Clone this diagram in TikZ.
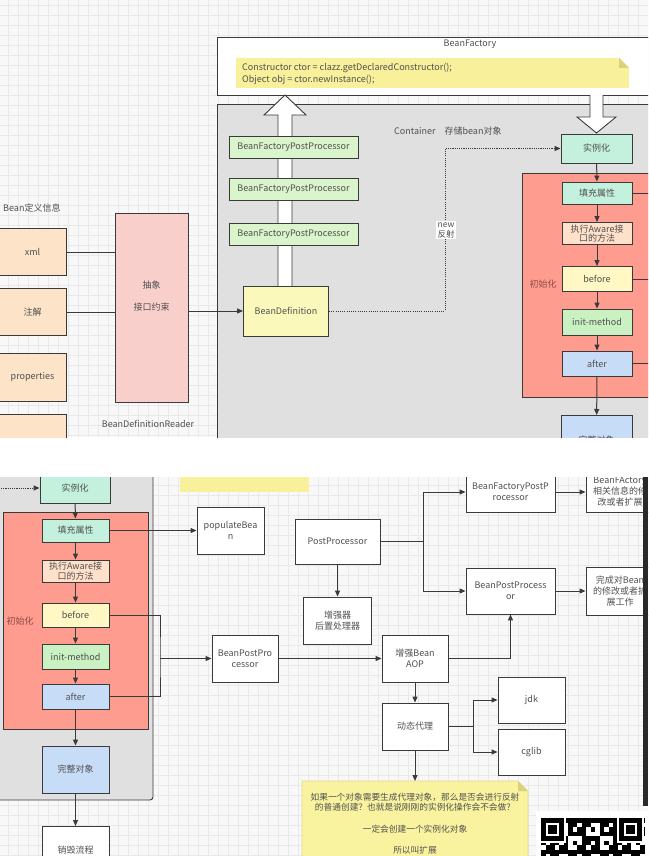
\documentclass[tikz,border=0pt]{standalone}
\usepackage{fontspec}
\setmainfont{Noto Sans CJK SC}
\usetikzlibrary{arrows.meta}
\usetikzlibrary{positioning}
\definecolor{paper}{HTML}{F8F8F8}
\definecolor{gridcol}{HTML}{E9E9E9}
\definecolor{ink}{HTML}{3A3A3A}
\definecolor{txt}{HTML}{505050}
\definecolor{boxgray}{HTML}{E0E0E0}
\definecolor{mint}{HTML}{C3F1DD}
\definecolor{initred}{HTML}{FF9C90}
\definecolor{initlbl}{HTML}{8E4A44}
\definecolor{srcpeach}{HTML}{FDE3C7}
\definecolor{awarepeach}{HTML}{FFE1CB}
\definecolor{readerpink}{HTML}{F9CFCC}
\definecolor{defyellow}{HTML}{FAF8BA}
\definecolor{beforeyellow}{HTML}{FFF8C4}
\definecolor{initgreen}{HTML}{C9F1C2}
\definecolor{bfppgreen}{HTML}{DAF4CB}
\definecolor{afterblue}{HTML}{C7DCF7}
\definecolor{noteyellow}{HTML}{F8F09A}
\definecolor{folddark}{HTML}{D9D27A}
\definecolor{tipyellow}{HTML}{F9F39F}
\definecolor{tipedge}{HTML}{E3D98A}
\tikzset{
box/.style={ % boxes of the flow
draw=ink, line width=0.9pt, align=center, inner sep=1pt,
font=\fontsize{9}{11}\selectfont, text=txt},
lbl/.style={font=\fontsize{9}{11}\selectfont, text=txt, inner sep=1pt},
link/.style={draw=ink, line width=1pt},
flow/.style={link, -{Triangle[length=6pt, width=5pt]}}, % arrowed connector
dots/.style={link, dash pattern=on 1.1pt off 1.1pt},
gridline/.style={draw=gridcol, line width=0.4pt},
hollow/.style={draw=ink, line width=0.9pt, fill=white, line join=miter}}

\begin{document}
\begin{tikzpicture}[x=1pt, y=-1pt]
\useasboundingbox (0,0) rectangle (648,856);
\fill[white] (0,0) rectangle (648,856);

% first view
\begin{scope}
\clip (0,0) rectangle (648,437);
\fill[paper] (0,0) rectangle (648,437);
\foreach \gx in {8,18,...,648} \draw[gridline] (\gx,0) -- (\gx,437);
\foreach \gy in {5,15,...,437} \draw[gridline] (0,\gy) -- (648,\gy);

\node[box, fill=white, minimum width=443, minimum height=58] (factory) at (438.5,66) {};
\node[lbl] (factorytitle) at (470,44) {BeanFactory};
\fill[noteyellow] (236,58) -- (619,58) -- (629,68) -- (629,88) -- (236,88) -- cycle;
\fill[folddark] (619,58) -- (629,68) -- (619,68) -- cycle;
\node[lbl, anchor=west, align=left, font=\fontsize{9}{12}\selectfont] (ctorcode) at (241,74)
{Constructor ctor = clazz.getDeclaredConstructor();\\Object obj = ctor.newInstance();};

\node[box, fill=boxgray, minimum width=443, minimum height=346, anchor=north west] (container) at (217,104) {};
\node[lbl, anchor=west] (containertitle) at (393,131) {Container\quad 存储bean对象};

\draw[hollow] (278,286) -- (278,115) -- (264,115) -- (285,95) -- (306,115) -- (292,115) -- (292,286);
\draw[hollow] (590,95) -- (590,117) -- (577,117) -- (596.5,133) -- (616,117) -- (603,117) -- (603,95);

\foreach \n/\y in {1/147.5, 2/189, 3/234}
\node[box, fill=bfppgreen, minimum width=129, minimum height=22] (bfpp\n) at (293.5,\y) {BeanFactoryPostProcessor};
\node[box, fill=defyellow, minimum width=85, minimum height=50] (beandef) at (286,311) {BeanDefinition};

\node[box, fill=mint, minimum width=71, minimum height=29] (inst) at (596.5,148.5) {实例化};
\node[box, fill=initred, minimum width=150, minimum height=224, anchor=north west] (initbox) at (522,173) {};
\node[lbl, text=initlbl] (initlabel) at (543,284) {初始化};
\node[box, fill=mint, minimum width=70, minimum height=22] (fillprop) at (597,193) {填充属性};
\node[box, fill=awarepeach, minimum width=70, minimum height=22, font=\fontsize{9}{9.5}\selectfont] (aware) at (597,233.5) {执行Aware接\\口的方法};
\node[box, fill=beforeyellow, minimum width=70, minimum height=25] (before) at (597,279) {before};
\node[box, fill=initgreen, minimum width=70, minimum height=26] (initm) at (597,322) {init-method};
\node[box, fill=afterblue, minimum width=70, minimum height=25] (after) at (597,363.5) {after};
\node[box, fill=afterblue, minimum width=71, minimum height=50, anchor=north] (whole) at (596.5,415) {完整对象};

\draw[flow] (inst) -- (fillprop);
\draw[flow] (fillprop) -- (aware);
\draw[flow] (aware) -- (before);
\draw[flow] (before) -- (initm);
\draw[flow] (initm) -- (after);
\draw[flow] (after) -- (whole);
\coordinate (rightedge) at (660,0);
\foreach \n in {fillprop,before,after} \draw[link] (\n.east) -- (\n.east -| rightedge);

\coordinate (newbend) at (445,230);
\draw[dots, -{Triangle[length=6pt, width=5pt]}] (beandef.east) -| (newbend) |- (inst.west);
\node[lbl, fill=white, align=center, font=\fontsize{8.5}{10}\selectfont, inner sep=1.5pt] (newlabel) at (446,230) {new\\反射};

\node[lbl, anchor=west] (definfo) at (2,208) {Bean定义信息};
\node[box, fill=srcpeach, minimum width=67, minimum height=47] (xml) at (32.5,252) {xml};
\node[box, fill=srcpeach, minimum width=67, minimum height=47] (anno) at (32.5,312) {注解};
\node[box, fill=srcpeach, minimum width=67, minimum height=48] (props) at (32.5,377) {properties};
\node[box, fill=srcpeach, minimum width=67, minimum height=48] (other) at (32.5,438) {};
\node[box, fill=readerpink, minimum width=73, minimum height=189] (reader) at (151.5,307.5) {};
\node[lbl, align=center] (readertext) at (151.5,296) {抽象\\[11pt]接口约束};
\node[lbl] (readername) at (148,424) {BeanDefinitionReader};
\draw[link] (xml) -- (xml -| reader.west);
\draw[link] (anno) -- (anno -| reader.west);
\draw[flow] (reader.east |- beandef) -- (beandef.west);
\end{scope}

% second view
\begin{scope}
\clip (0,477) rectangle (648,856);
\fill[paper] (0,477) rectangle (648,856);
\foreach \gx in {8,18,...,648} \draw[gridline] (\gx,477) -- (\gx,856);
\foreach \gy in {485,495,...,856} \draw[gridline] (0,\gy) -- (648,\gy);

\fill[noteyellow] (180,470) rectangle (309,492);
\draw[fill=boxgray, draw=ink, line width=0.9pt, rounded corners=3pt] (-10,460) rectangle (153,800);

\node[box, fill=mint, minimum width=70, minimum height=30] (instb) at (75,488) {实例化};
\coordinate (dotsource) at (-10,488);
\draw[dots, -{Triangle[length=6pt, width=5pt]}] (dotsource) -- (instb.west);
\node[box, fill=initred, minimum width=145, minimum height=217, anchor=north west] (initboxb) at (3,512) {};
\node[lbl, text=initlbl] (initlabelb) at (20,621) {初始化};
\node[box, fill=mint, minimum width=67, minimum height=23] (fillb) at (75.5,530.5) {填充属性};
\node[box, fill=awarepeach, minimum width=67, minimum height=22, font=\fontsize{9}{9.5}\selectfont] (awareb) at (75.5,571) {执行Aware接\\口的方法};
\node[box, fill=beforeyellow, minimum width=67, minimum height=24] (beforeb) at (75.5,615) {before};
\node[box, fill=initgreen, minimum width=67, minimum height=25] (initmb) at (75.5,656.5) {init-method};
\node[box, fill=afterblue, minimum width=67, minimum height=25] (afterb) at (75.5,696.5) {after};
\node[box, fill=afterblue, minimum width=67, minimum height=47] (wholeb) at (75.5,769.5) {完整对象};
\node[box, fill=white, minimum width=67, minimum height=48, anchor=north] (destroy) at (75.5,826) {销毁流程};
\draw[flow] (instb) -- (fillb);
\draw[flow] (fillb) -- (awareb);
\draw[flow] (awareb) -- (beforeb);
\draw[flow] (beforeb) -- (initmb);
\draw[flow] (initmb) -- (afterb);
\draw[flow] (afterb) -- (wholeb);
\draw[flow] (wholeb) -- (destroy);

\node[box, fill=white, minimum width=67, minimum height=47] (populate) at (230.5,530.5) {populateBea\\n};
\node[box, fill=white, minimum width=66, minimum height=47] (bppleft) at (245,658.5) {BeanPostPro\\cessor};
\draw[flow] (fillb) -- (populate);
\coordinate (bracket) at (160,658.5);
\draw[link] (beforeb.east) -| (bracket) |- (afterb.east);
\draw[flow] (bracket) -- (bppleft.west);

\node[box, fill=white, minimum width=85, minimum height=45] (postp) at (337.5,541.5) {PostProcessor};
\node[box, fill=white, minimum width=68, minimum height=47] (enhancer) at (337.5,620.5) {增强器\\后置处理器};
\node[box, fill=white, minimum width=89, minimum height=40] (bfppright) at (510.5,492) {BeanFactoryPostP\\rocessor};
\node[box, fill=white, minimum width=68, minimum height=40] (bfinfo) at (620,492) {BeanFActory\\相关信息的修\\改或者扩展};
\node[box, fill=white, minimum width=89, minimum height=46] (bppright) at (510.5,591) {BeanPostProcess\\or};
\node[box, fill=white, minimum width=68, minimum height=48] (done) at (620,591) {完成对Bean\\的修改或者扩\\展工作};
\node[box, fill=white, minimum width=66, minimum height=47] (aop) at (415,658.5) {增强Bean\\AOP};
\node[box, fill=white, minimum width=66, minimum height=47] (proxy) at (415,726.5) {动态代理};
\node[box, fill=white, minimum width=67, minimum height=46] (jdk) at (531.5,700) {jdk};
\node[box, fill=white, minimum width=67, minimum height=46] (cglib) at (531.5,752) {cglib};

\draw[flow] (postp) -- (enhancer);
\coordinate (ppfork) at (423,541.5);
\draw[link] (postp.east) -- (ppfork);
\draw[flow] (ppfork) |- (bfppright.west);
\draw[flow] (ppfork) |- (bppright.west);
\draw[flow] (bfppright) -- (bfinfo);
\draw[flow] (bppright) -- (done);
\draw[flow] (bppleft) -- (aop);
\draw[flow] (aop.east) -| (bppright.south);
\draw[flow] (aop) -- (proxy);
\coordinate (proxyfork) at (473,726.5);
\draw[link] (proxy.east) -- (proxyfork);
\draw[flow] (proxyfork) |- (jdk.west);
\draw[flow] (proxyfork) |- (cglib.west);

% note under the proxy
\filldraw[fill=tipyellow, draw=tipedge, line width=0.6pt] (302,781) -- (518,781) -- (528,791) -- (528,870) -- (302,870) -- cycle;
\fill[folddark] (518,781) -- (528,791) -- (518,791) -- cycle;
\coordinate (tiptop) at (415,781);
\draw[flow] (proxy) -- (tiptop);
\node[lbl, align=center, font=\fontsize{8.7}{10.5}\selectfont] (tipquestion) at (415,802)
{如果一个对象需要生成代理对象，那么是否会进行反射\\的普通创建？也就是说刚刚的实例化操作会不会做？};
\node[lbl, font=\fontsize{8.7}{10.5}\selectfont] (tipanswer) at (415,829) {一定会创建一个实例化对象};
\node[lbl, font=\fontsize{8.7}{10.5}\selectfont] (tipextend) at (415,850) {所以叫扩展};

\fill[ink!70!black] (643,477) rectangle (648,806);
% qr code
\fill[white] (536,811) rectangle (648,856);
\foreach \i in {0,...,22}{\foreach \j in {0,...,8}{
\pgfmathtruncatemacro\qbit{ifthenelse(mod(\i*\i*7+\j*11+\i*\j*5+3,7)<4,1,0)}
\ifnum\qbit=1 \fill[black] (541+\i*4.5,818+\j*4.5) rectangle ++(4.5,4.5); \fi
}}
\foreach \qx in {541,619}{
\fill[white] (\qx-2,816) rectangle ++(27,27);
\fill[black] (\qx,818) rectangle ++(22.5,22.5);
\fill[white] (\qx+4.5,822.5) rectangle ++(13.5,13.5);
\fill[black] (\qx+7,825) rectangle ++(8.5,8.5);
}
\end{scope}
\end{tikzpicture}
\end{document}
